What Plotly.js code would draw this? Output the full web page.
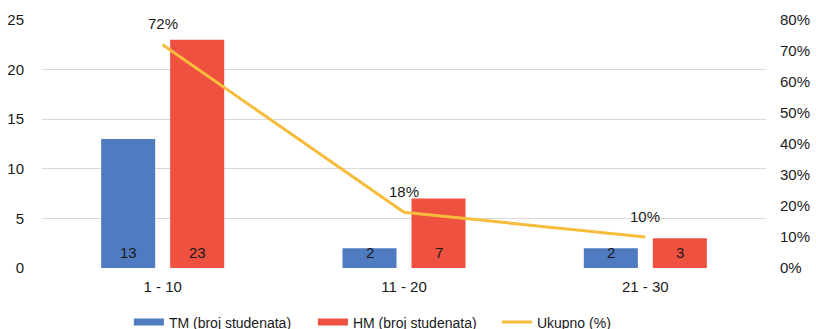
<!DOCTYPE html>
<html>
<head>
<meta charset="utf-8">
<script src="https://cdn.plot.ly/plotly-3.0.1.min.js"></script>
<style>
  html, body { margin: 0; padding: 0; background: #ffffff; }
  #chart { width: 816px; height: 329px; }
</style>
</head>
<body>
<div id="chart"></div>
<script>
// Categories (ranges) and series values
const categories = ['1 - 10', '11 - 20', '21 - 30'];
const tmStudents = [13, 2, 2];
const hmStudents = [23, 7, 3];
const totalPercent = [72, 18, 10];

const leftTicks = [0, 5, 10, 15, 20, 25];
const rightTicks = [0, 10, 20, 30, 40, 50, 60, 70, 80];
const rightTickLabels = rightTicks.map(v => v + '%');

const seriesNames = ['TM (broj studenata)', 'HM (broj studenata)', 'Ukupno (%)'];

const BLUE = '#4F7BC0';
const RED = '#EE5140';
const YELLOW = '#F7BC3C';
const TEXT = '#1a1a1a';
const FONT = 'Liberation Sans, Arial, Helvetica, sans-serif';

const traces = [
  {
    type: 'bar', name: seriesNames[0], x: categories, y: tmStudents,
    marker: { color: BLUE }, showlegend: false, hoverinfo: 'skip'
  },
  {
    type: 'bar', name: seriesNames[1], x: categories, y: hmStudents,
    marker: { color: RED }, showlegend: false, hoverinfo: 'skip'
  },
  {
    type: 'scatter', mode: 'lines', name: seriesNames[2], x: categories, y: totalPercent,
    yaxis: 'y2', line: { color: YELLOW, width: 3 }, showlegend: false, hoverinfo: 'skip'
  },
  // legend entries (wide swatches)
  {
    type: 'scatter', mode: 'lines', name: seriesNames[0], x: [null], y: [null],
    line: { color: BLUE, width: 7 }
  },
  {
    type: 'scatter', mode: 'lines', name: seriesNames[1], x: [null], y: [null],
    line: { color: RED, width: 7 }
  },
  {
    type: 'scatter', mode: 'lines', name: seriesNames[2], x: [null], y: [null],
    line: { color: YELLOW, width: 3 }
  }
];

// value labels at the base of each bar, and above each line point
const annotations = [];
categories.forEach((c, i) => {
  annotations.push({
    x: c, y: 0, xref: 'x', yref: 'y', text: String(tmStudents[i]),
    showarrow: false, xshift: -34.5, yshift: 16,
    font: { family: FONT, size: 15, color: TEXT }
  });
  annotations.push({
    x: c, y: 0, xref: 'x', yref: 'y', text: String(hmStudents[i]),
    showarrow: false, xshift: 34.5, yshift: 16,
    font: { family: FONT, size: 15, color: TEXT }
  });
  annotations.push({
    x: c, y: totalPercent[i], xref: 'x', yref: 'y2', text: totalPercent[i] + '%',
    showarrow: false, yshift: 21,
    font: { family: FONT, size: 15, color: TEXT }
  });
});

const layout = {
  width: 816, height: 329,
  margin: { l: 42, r: 50, t: 20, b: 61, autoexpand: false },
  paper_bgcolor: '#ffffff', plot_bgcolor: '#ffffff',
  font: { family: FONT, size: 14, color: TEXT },
  barmode: 'group', bargap: 0.428, bargroupgap: 0.217,
  xaxis: {
    type: 'category', range: [-0.5, 2.5], showgrid: false, zeroline: false,
    showline: false, ticks: 'outside', ticklen: 5, tickcolor: 'rgba(0,0,0,0)',
    tickfont: { family: FONT, size: 15, color: TEXT }
  },
  yaxis: {
    range: [0, 25], tickvals: leftTicks, showgrid: true, gridcolor: '#d9d9d9',
    gridwidth: 1, zeroline: false, showline: false, ticks: 'outside', ticklen: 14,
    tickcolor: 'rgba(0,0,0,0)', tickfont: { family: FONT, size: 15, color: TEXT }
  },
  yaxis2: {
    overlaying: 'y', side: 'right', range: [0, 80], tickvals: rightTicks,
    ticktext: rightTickLabels, showgrid: false, zeroline: false, showline: false,
    ticks: 'outside', ticklen: 10, tickcolor: 'rgba(0,0,0,0)',
    tickfont: { family: FONT, size: 15, color: TEXT }
  },
  showlegend: true,
  legend: {
    orientation: 'h', x: 0.12, xanchor: 'left', y: -0.155, yanchor: 'top',
    entrywidth: 139, entrywidthmode: 'pixels',
    font: { family: FONT, size: 14, color: TEXT },
    bgcolor: 'rgba(0,0,0,0)', itemclick: false, itemdoubleclick: false
  },
  annotations: annotations
};

Plotly.newPlot('chart', traces, layout, { displayModeBar: false, staticPlot: true });
</script>
</body>
</html>
